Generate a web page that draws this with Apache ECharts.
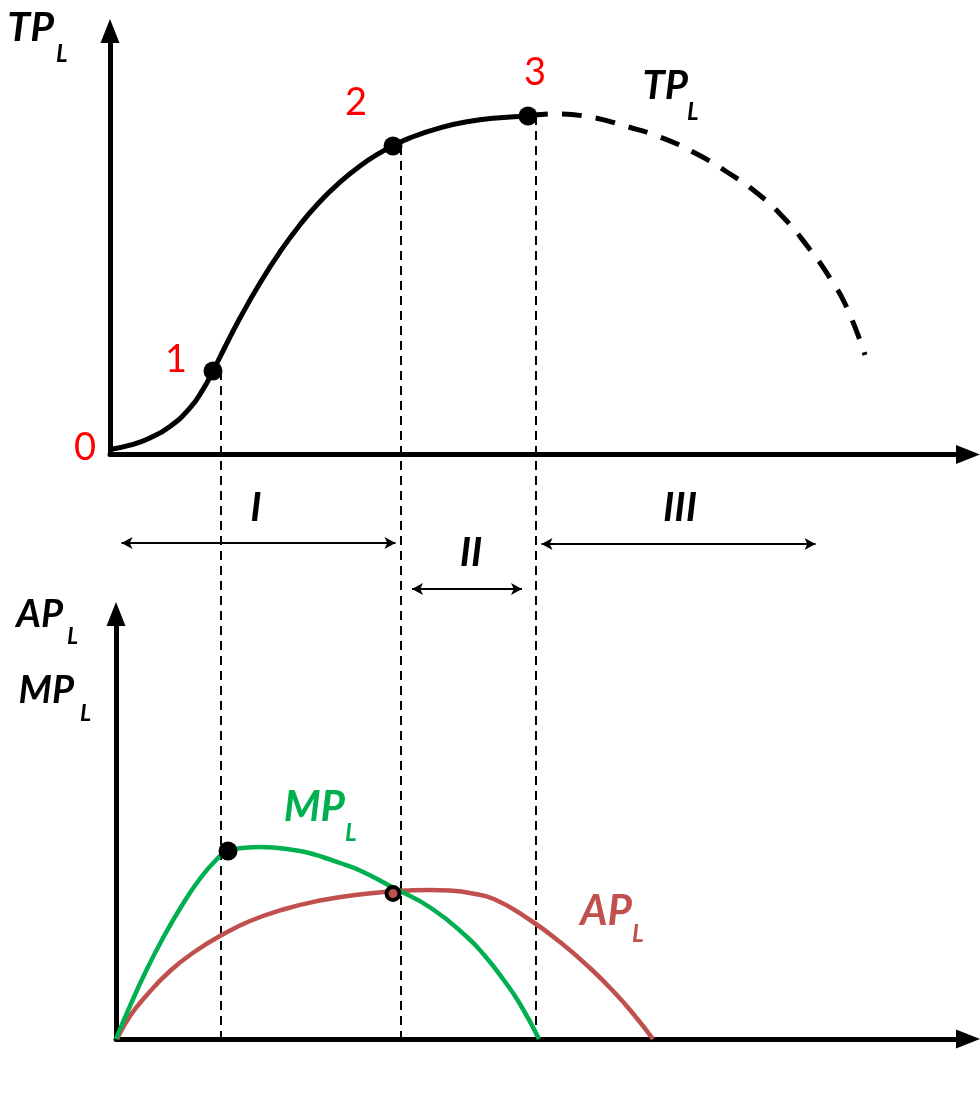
<!DOCTYPE html>
<html>
<head>
<meta charset="utf-8">
<script src="https://cdn.jsdelivr.net/npm/echarts@6/dist/echarts.min.js"></script>
<style>
html,body{margin:0;padding:0;background:#fff;}
#chart{width:980px;height:1094px;}
</style>
</head>
<body>
<div id="chart"></div>
<script>
// ---- Data (labour L on x, output on y) ----
// Total product, solid part (up to point 3)
const tpSolidX = [0, 2, 4, 6, 8, 9.3, 10.3, 11.5, 13, 15, 17, 19, 21, 23, 25, 27, 28.3, 30, 33, 36, 39, 41.8];
const tpSolidY = [0.5, 0.93, 1.66, 2.81, 4.66, 6.51, 8.35, 10.75, 13.65, 17.15, 20.27, 22.98, 25.3, 27.23, 28.85, 30.17, 30.85, 31.67, 32.67, 33.32, 33.68, 33.85];
// Total product, dashed part (after point 3)
const tpDashX = [41.8, 44.3, 48.0, 51.5, 55.0, 58.5, 61.7, 64.7, 67.3, 69.8, 72.0, 73.7, 75.5];
const tpDashY = [33.85, 34.05, 33.75, 32.85, 31.75, 30.15, 28.25, 26.15, 23.75, 20.75, 17.65, 14.65, 9.95];
// Marked points on TP
const pointX = [10.3, 28.3, 41.8];
const pointY = [8.35, 30.85, 33.85];
const pointLabels = ['1', '2', '3'];
// Stage boundaries (vertical dashed guides)
const stageX = [11.1, 29.1, 42.6];
const guideBottom = [-58.95, -58.45, -58.45];
// Stage arrows (tips) and labels
const stageNames = ['I', 'II', 'III'];
const arrowFrom = [0.7, 29.75, 42.7];
const arrowTo = [29.0, 41.65, 71.0];
const arrowY = [-8.85, -13.45, -8.95];
// Marginal product
const mpX = [0.6, 2.0, 3.6, 5.3, 7.1, 8.9, 10.7, 11.8, 13.5, 15.0, 16.5, 18.0, 19.5, 21.4, 23.0, 25.0, 28.2, 32.1, 35.7, 37.5, 39.3, 41.0, 42.9];
const mpY = [0, 3.3, 6.8, 10.1, 13.2, 15.9, 18.0, 18.8, 19.12, 19.2, 19.13, 18.95, 18.7, 18.15, 17.6, 16.85, 15.2, 13.1, 10.2, 8.3, 6.0, 3.5, 0];
// Average product
const apX = [0.7, 2.0, 3.6, 6.0, 8.5, 11.0, 14.0, 17.5, 21.0, 24.5, 28.0, 30.0, 32.0, 34.0, 36.0, 38.5, 42.0, 45.0, 48.0, 50.5, 52.5, 54.3];
const apY = [0, 2.3, 4.3, 6.8, 8.75, 10.3, 11.8, 13.0, 13.85, 14.4, 14.75, 14.86, 14.9, 14.84, 14.6, 13.95, 11.9, 9.7, 7.1, 4.6, 2.3, 0];
// MP maximum, AP = MP crossing
const mpPeak = [11.8, 18.8];
const cross = [28.3, 14.55];

// ---- styles ----
const BLACK = '#000000', GREEN = '#00B050', BROWN = '#C0504D', RED = '#FF0000';
const FONT = 'Lato';
const zip = (xs, ys) => xs.map((x, i) => [x, ys[i]]);
const labelOffsets = [[-37, -11], [-37, -43], [7, -43]];

function axisPair(gridIndex, xmin, xmax, ymin, ymax) {
  const line = { show: true, onZero: false, symbol: ['none', 'triangle'], symbolSize: [19, 24],
    lineStyle: { color: BLACK, width: 5 } };
  return {
    x: { type: 'value', gridIndex, min: xmin, max: xmax, axisLine: line,
      axisTick: { show: false }, axisLabel: { show: false }, splitLine: { show: false } },
    y: { type: 'value', gridIndex, min: ymin, max: ymax, axisLine: line,
      axisTick: { show: false }, axisLabel: { show: false }, splitLine: { show: false } }
  };
}
const tpAxes = axisPair(0, 0, 85.8, 0, 42.35);
const apAxes = axisPair(1, 0.6, 85.8, 0, 42.5);

const seriesList = [];
// TP solid
seriesList.push({ type: 'line', xAxisIndex: 0, yAxisIndex: 0, data: zip(tpSolidX, tpSolidY), smooth: 0.5,
  showSymbol: false, lineStyle: { color: BLACK, width: 5 }, z: 5 });
// TP dashed
seriesList.push({ type: 'line', xAxisIndex: 0, yAxisIndex: 0, data: zip(tpDashX, tpDashY), smooth: 0.5,
  showSymbol: false, lineStyle: { color: BLACK, width: 5, type: [20, 14], cap: 'butt' }, z: 5 });
// vertical guides
stageX.forEach((x, i) => {
  seriesList.push({ type: 'line', xAxisIndex: 0, yAxisIndex: 0, clip: false, showSymbol: false,
    data: [[x, pointY[i]], [x, guideBottom[i]]],
    lineStyle: { color: BLACK, width: 2, type: [9, 6] }, z: 3 });
});
// stage arrows
const inset = 0.45;
stageNames.forEach((n, i) => {
  seriesList.push({ type: 'line', xAxisIndex: 0, yAxisIndex: 0, clip: false,
    symbol: 'arrow', symbolSize: [9, 11], showSymbol: true,
    data: [{ value: [arrowFrom[i] + inset, arrowY[i]], symbolRotate: 90 },
           { value: [arrowTo[i] - inset, arrowY[i]], symbolRotate: -90 }],
    itemStyle: { color: BLACK, opacity: 1 }, lineStyle: { color: BLACK, width: 2 }, z: 4 });
});
// TP points with red numbers
seriesList.push({ type: 'scatter', xAxisIndex: 0, yAxisIndex: 0, symbolSize: 19,
  itemStyle: { color: BLACK, opacity: 1 },
  data: pointX.map((x, i) => ({ value: [x, pointY[i]], label: { offset: labelOffsets[i] } })),
  label: { show: true, position: 'inside', formatter: p => pointLabels[p.dataIndex], opacity: 1,
    color: RED, fontFamily: FONT, fontSize: 38, fontWeight: 'normal' }, z: 10 });
// origin "0"
seriesList.push({ type: 'scatter', xAxisIndex: 0, yAxisIndex: 0, symbolSize: 1, clip: false,
  itemStyle: { color: 'rgba(0,0,0,0)' }, data: [[0, 0]],
  label: { show: true, position: 'inside', offset: [-25, -7], formatter: '0', opacity: 1,
    color: RED, fontFamily: FONT, fontSize: 38 }, z: 10 });
// AP
seriesList.push({ type: 'line', xAxisIndex: 1, yAxisIndex: 1, data: zip(apX, apY), smooth: 0.5,
  showSymbol: false, lineStyle: { color: BROWN, width: 4.5 }, z: 5 });
// MP
seriesList.push({ type: 'line', xAxisIndex: 1, yAxisIndex: 1, data: zip(mpX, mpY), smooth: 0.5,
  showSymbol: false, lineStyle: { color: GREEN, width: 4.5 }, z: 6 });
// MP peak dot
seriesList.push({ type: 'scatter', xAxisIndex: 1, yAxisIndex: 1, symbolSize: 19,
  itemStyle: { color: BLACK, opacity: 1 }, data: [mpPeak], z: 10 });
// crossing ring
seriesList.push({ type: 'scatter', xAxisIndex: 1, yAxisIndex: 1, symbolSize: 13,
  itemStyle: { color: BROWN, borderColor: BLACK, borderWidth: 4, opacity: 1 }, data: [cross], z: 10 });

function txt(text, x, y, size, color, align) {
  const font = 'italic bold ' + size + 'px ' + FONT;
  return { type: 'text', x, y, z: 100,
    style: { text, fill: color, font, align, verticalAlign: 'middle', textAlign: align, textVerticalAlign: 'middle' } };
}
const graphics = [
  txt('TP', 54, 28, 41, BLACK, 'right'), txt('L', 56, 54.5, 24, BLACK, 'left'),
  txt('TP', 688, 86, 40, BLACK, 'right'), txt('L', 687, 112.5, 24, BLACK, 'left'),
  txt('AP', 63, 614.5, 38, BLACK, 'right'), txt('L', 67, 637, 23, BLACK, 'left'),
  txt('MP', 74, 691, 38, BLACK, 'right'), txt('L', 80, 714, 23, BLACK, 'left'),
  txt('MP', 345, 807, 42, GREEN, 'right'), txt('L', 345, 833, 24, GREEN, 'left'),
  txt('AP', 632, 911, 42, BROWN, 'right'), txt('L', 632, 934, 24, BROWN, 'left'),
  txt(stageNames[0], 256, 508, 40, BLACK, 'center'),
  txt(stageNames[1], 471, 553, 40, BLACK, 'center'),
  txt(stageNames[2], 680, 508, 40, BLACK, 'center')
];

const chart = echarts.init(document.getElementById('chart'), null, { renderer: 'canvas' });
chart.setOption({
  animation: false,
  backgroundColor: '#ffffff',
  grid: [
    { left: 110, top: 31, width: 858, height: 423.5, outerBoundsMode: 'none', containLabel: false },
    { left: 116, top: 614, width: 852, height: 425, outerBoundsMode: 'none', containLabel: false }
  ],
  xAxis: [tpAxes.x, apAxes.x],
  yAxis: [tpAxes.y, apAxes.y],
  series: seriesList,
  graphic: graphics
});
</script>
</body>
</html>
